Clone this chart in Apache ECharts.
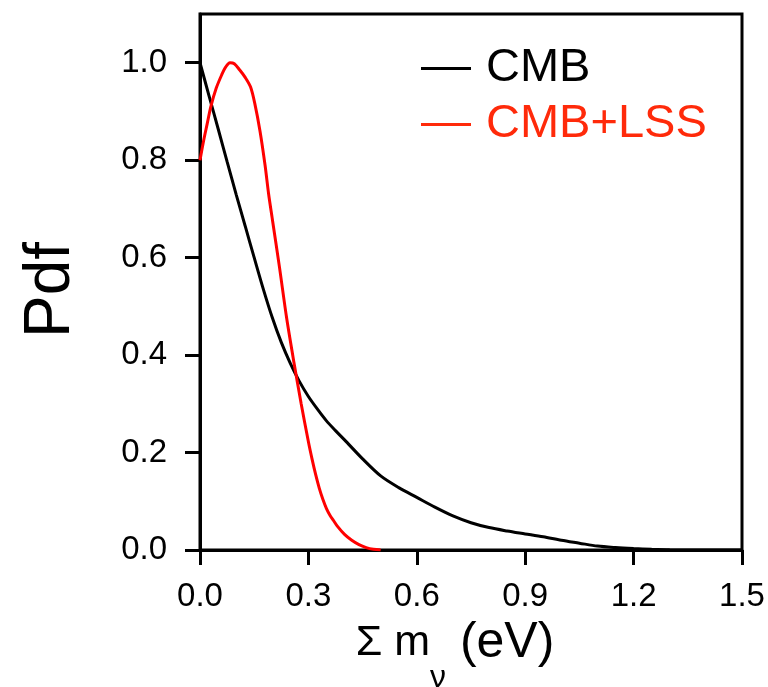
<!DOCTYPE html>
<html>
<head>
<meta charset="utf-8">
<script src="https://cdn.jsdelivr.net/npm/echarts@6/dist/echarts.min.js"></script>
<style>
html,body{margin:0;padding:0;background:#fff;}
#chart{width:768px;height:687px;}
</style>
</head>
<body>
<div id="chart"></div>
<script>
// CMB curve: [sum m_nu (eV), pdf]
const cmbX = [0, 0.025, 0.05, 0.075, 0.1, 0.125, 0.15, 0.175, 0.2, 0.225, 0.25, 0.275, 0.3, 0.325, 0.35, 0.375, 0.4, 0.45, 0.5, 0.55, 0.6, 0.65, 0.7, 0.75, 0.8, 0.85, 0.9, 0.95, 1.0, 1.05, 1.1, 1.15, 1.2, 1.25, 1.3, 1.4, 1.5];
const cmbY = [1.0, 0.932, 0.865, 0.797, 0.73, 0.665, 0.6, 0.536, 0.477, 0.426, 0.383, 0.346, 0.315, 0.289, 0.265, 0.245, 0.226, 0.187, 0.152, 0.128, 0.108, 0.088, 0.07, 0.056, 0.046, 0.039, 0.033, 0.027, 0.02, 0.014, 0.008, 0.005, 0.003, 0.0015, 0.0005, 0, 0];
// CMB+LSS curve
const lssX = [0, 0.01, 0.02, 0.03, 0.045, 0.06, 0.07, 0.083, 0.095, 0.11, 0.125, 0.14, 0.152, 0.166, 0.18, 0.19, 0.2, 0.22, 0.24, 0.26, 0.28, 0.3, 0.31, 0.32, 0.33, 0.34, 0.35, 0.36, 0.37, 0.38, 0.4, 0.42, 0.44, 0.46, 0.48, 0.5];
const lssY = [0.8, 0.84, 0.875, 0.91, 0.948, 0.975, 0.99, 1.0, 0.998, 0.985, 0.97, 0.95, 0.915, 0.86, 0.79, 0.73, 0.68, 0.58, 0.475, 0.385, 0.3, 0.222, 0.187, 0.155, 0.127, 0.104, 0.085, 0.071, 0.06, 0.049, 0.032, 0.02, 0.011, 0.005, 0.0015, 0];
const yTicks = [0, 0.2, 0.4, 0.6, 0.8, 1.0];
const seriesNames = ['CMB', 'CMB+LSS'];

const FONT = '"Liberation Sans", Arial, sans-serif';
const zip = (xs, ys) => xs.map((x, i) => [x, ys[i]]);

const chart = echarts.init(document.getElementById('chart'), null, {renderer: 'canvas'});
chart.setOption({
  animation: false,
  backgroundColor: '#fff',
  grid: {left: 200, right: 26, top: 14, bottom: 137, outerBoundsMode: 'none', containLabel: false,
         show: true, borderColor: '#000', borderWidth: 3},
  legend: {
    orient: 'vertical', left: 416, top: 40, itemGap: 9,
    itemWidth: 50, itemHeight: 3,
    textStyle: {fontFamily: FONT, fontSize: 47, padding: [0, 0, 0, 10]},
    data: [
      {name: seriesNames[0], icon: 'rect', itemStyle: {color: '#000'}, textStyle: {color: '#000'}},
      {name: seriesNames[1], icon: 'rect', itemStyle: {color: '#ff2a0a'}, textStyle: {color: '#ff2a0a'}}
    ]
  },
  xAxis: {
    type: 'value', min: 0, max: 1.5, interval: 0.3,
    name: '{a|Σ m}{s|ν}{b| (eV)}', nameLocation: 'middle', nameGap: 42,
    nameTextStyle: {
      fontFamily: FONT, color: '#000', padding: [0, 32, 0, 0],
      rich: {
        a: {fontFamily: FONT, fontSize: 43, color: '#000'},
        s: {fontFamily: FONT, fontSize: 32, color: '#000', padding: [70, 0, 0, 0]},
        b: {fontFamily: FONT, fontSize: 50, color: '#000'}
      }
    },
    axisLine: {show: true, lineStyle: {color: '#000', width: 3}},
    axisTick: {show: true, inside: false, length: 15, lineStyle: {color: '#000', width: 3}},
    axisLabel: {fontFamily: FONT, fontSize: 33, color: '#000', margin: 30, formatter: v => v.toFixed(1)},
    splitLine: {show: false}
  },
  yAxis: {
    type: 'value', min: 0, max: 1.1,
    name: 'Pdf', nameLocation: 'middle', nameGap: 117,
    nameTextStyle: {fontFamily: FONT, fontSize: 64, color: '#000', padding: [0, 16, 0, 0]},
    axisLine: {show: true, lineStyle: {color: '#000', width: 3}},
    axisTick: {show: true, inside: false, length: 15, customValues: yTicks, lineStyle: {color: '#000', width: 3}},
    axisLabel: {fontFamily: FONT, fontSize: 33, color: '#000', margin: 33, customValues: yTicks, formatter: v => v.toFixed(1)},
    splitLine: {show: false}
  },
  series: [
    {name: seriesNames[0], type: 'line', data: zip(cmbX, cmbY), showSymbol: false, smooth: 0.3,
     lineStyle: {color: '#000', width: 3}, itemStyle: {color: '#000'}, z: 3},
    {name: seriesNames[1], type: 'line', data: zip(lssX, lssY), showSymbol: false, smooth: 0.3,
     lineStyle: {color: '#ff0000', width: 3}, itemStyle: {color: '#ff0000'}, z: 4}
  ]
});
</script>
</body>
</html>
